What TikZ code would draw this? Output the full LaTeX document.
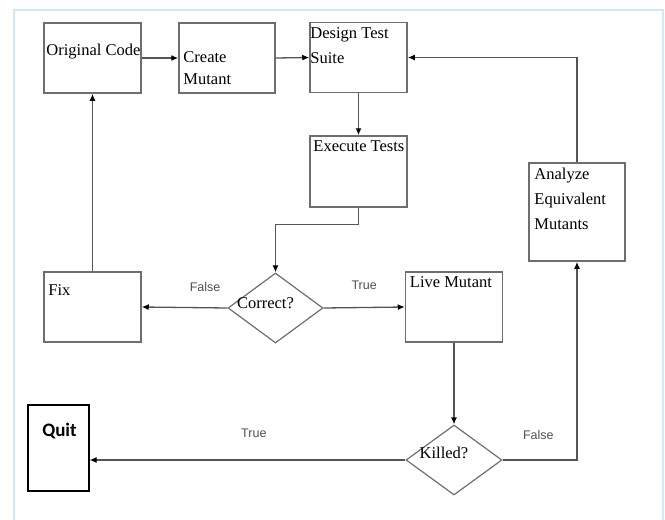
\documentclass[tikz,border=0pt]{standalone}
\usepackage{fontspec}
\setmainfont{Liberation Serif}
\setsansfont{Liberation Sans}
\newfontfamily\quitfont{Carlito}
\usetikzlibrary{arrows.meta, positioning, shapes.geometric, calc}
\definecolor{boxgray}{HTML}{6E6E6E}
\definecolor{linegray}{HTML}{555555}
\definecolor{labelgray}{HTML}{505050}
\definecolor{framecyan}{HTML}{CFEAF6}

\begin{document}
\begin{tikzpicture}[
  x=1pt, y=-1pt,
  box/.style={rectangle, draw=boxgray, line width=1.5pt, minimum width=97pt, minimum height=70pt, inner sep=0pt},
  decision/.style={diamond, draw=boxgray, line width=1.2pt, minimum width=95pt, minimum height=70pt, inner sep=0pt},
  txt/.style={anchor=west, inner sep=0pt, align=left, font=\fontsize{16.5}{25}\selectfont},
  flow/.style={-{Latex[length=7pt, width=6pt, black]}, draw=linegray, line width=1.3pt},
  lbl/.style={font=\sffamily\fontsize{12.5}{14}\selectfont, text=labelgray},
]
\useasboundingbox (0,0) rectangle (665,520);
\draw[framecyan, line width=1.5pt] (14,530) -- (14,10) -- (663,10) -- (663,530);

% boxes
\node[box] (orig) at (92.5,58) {};
\node[box, minimum width=96pt] (create) at (227,58) {};
\node[box] (design) at (358.5,57.5) {};
\node[box, minimum height=71pt] (exec) at (358.5,171.5) {};
\node[box, minimum width=96pt, minimum height=98pt] (analyze) at (577,212) {};
\node[box] (fix) at (92.5,307) {};
\node[box] (live) at (454,307) {};
\node[decision] (correct) at (275.5,308) {};
\node[decision, minimum width=96pt] (killed) at (454,460) {};
\node[rectangle, draw=black, line width=1.3pt, minimum width=61pt, minimum height=86pt] (quit) at (58.5,448) {};

% texts
\node[txt] (origtxt) at ($(orig.north west)+(3,29)$) {Original Code};
\node[txt] (createtxt) at ($(create.north west)+(5,46)$) {Create\\[-3pt]Mutant};
\node[txt] (designtxt) at ($(design.north west)+(1,24)$) {Design Test\\Suite};
\node[txt] (exectxt) at ($(exec.north west)+(4,11)$) {Execute Tests};
\node[txt] (analyzetxt) at ($(analyze.north west)+(6,37)$) {Analyze\\Equivalent\\Mutants};
\node[txt] (fixtxt) at ($(fix.north west)+(5,19)$) {Fix};
\node[txt] (livetxt) at ($(live.north west)+(5,11)$) {Live Mutant};
\node[txt] (correcttxt) at ($(correct.center)+(-10,-5)$) [anchor=center] {Correct?};
\node[txt] (killedtxt) at ($(killed.center)+(-10,-7)$) [anchor=center] {Killed?};
\node[anchor=center, font=\quitfont\bfseries\fontsize{19}{20}\selectfont] (quittxt) at ($(quit.north)+(1,27)$) {Quit};

% connectors
\draw[flow] (orig.east) -- (create.west);
\draw[flow] (create.east) -- (design.west);
\draw[flow] (design.south) -- (exec.north);
\draw[flow] (exec.south) -- ++(0,17) -| (correct.north);
\draw[flow] (correct.west) -- node[lbl, pos=0.26, above=12pt] {False} (fix.east);
\draw[flow] (correct.east) -- node[lbl, pos=0.5, above=14pt] {True} (live.west);
\draw[flow] (fix.north) -- (orig.south);
\draw[flow] (live.south) -- (killed.north);
\draw[flow] (killed.west) -- node[lbl, pos=0.48, above=18pt] {True} (killed.west -| quit.east);
\draw[flow] (killed.east) -| node[lbl, pos=0.24, above=16pt] {False} (analyze.south);
\draw[flow] (analyze.north) |- (design.east);
\end{tikzpicture}
\end{document}
